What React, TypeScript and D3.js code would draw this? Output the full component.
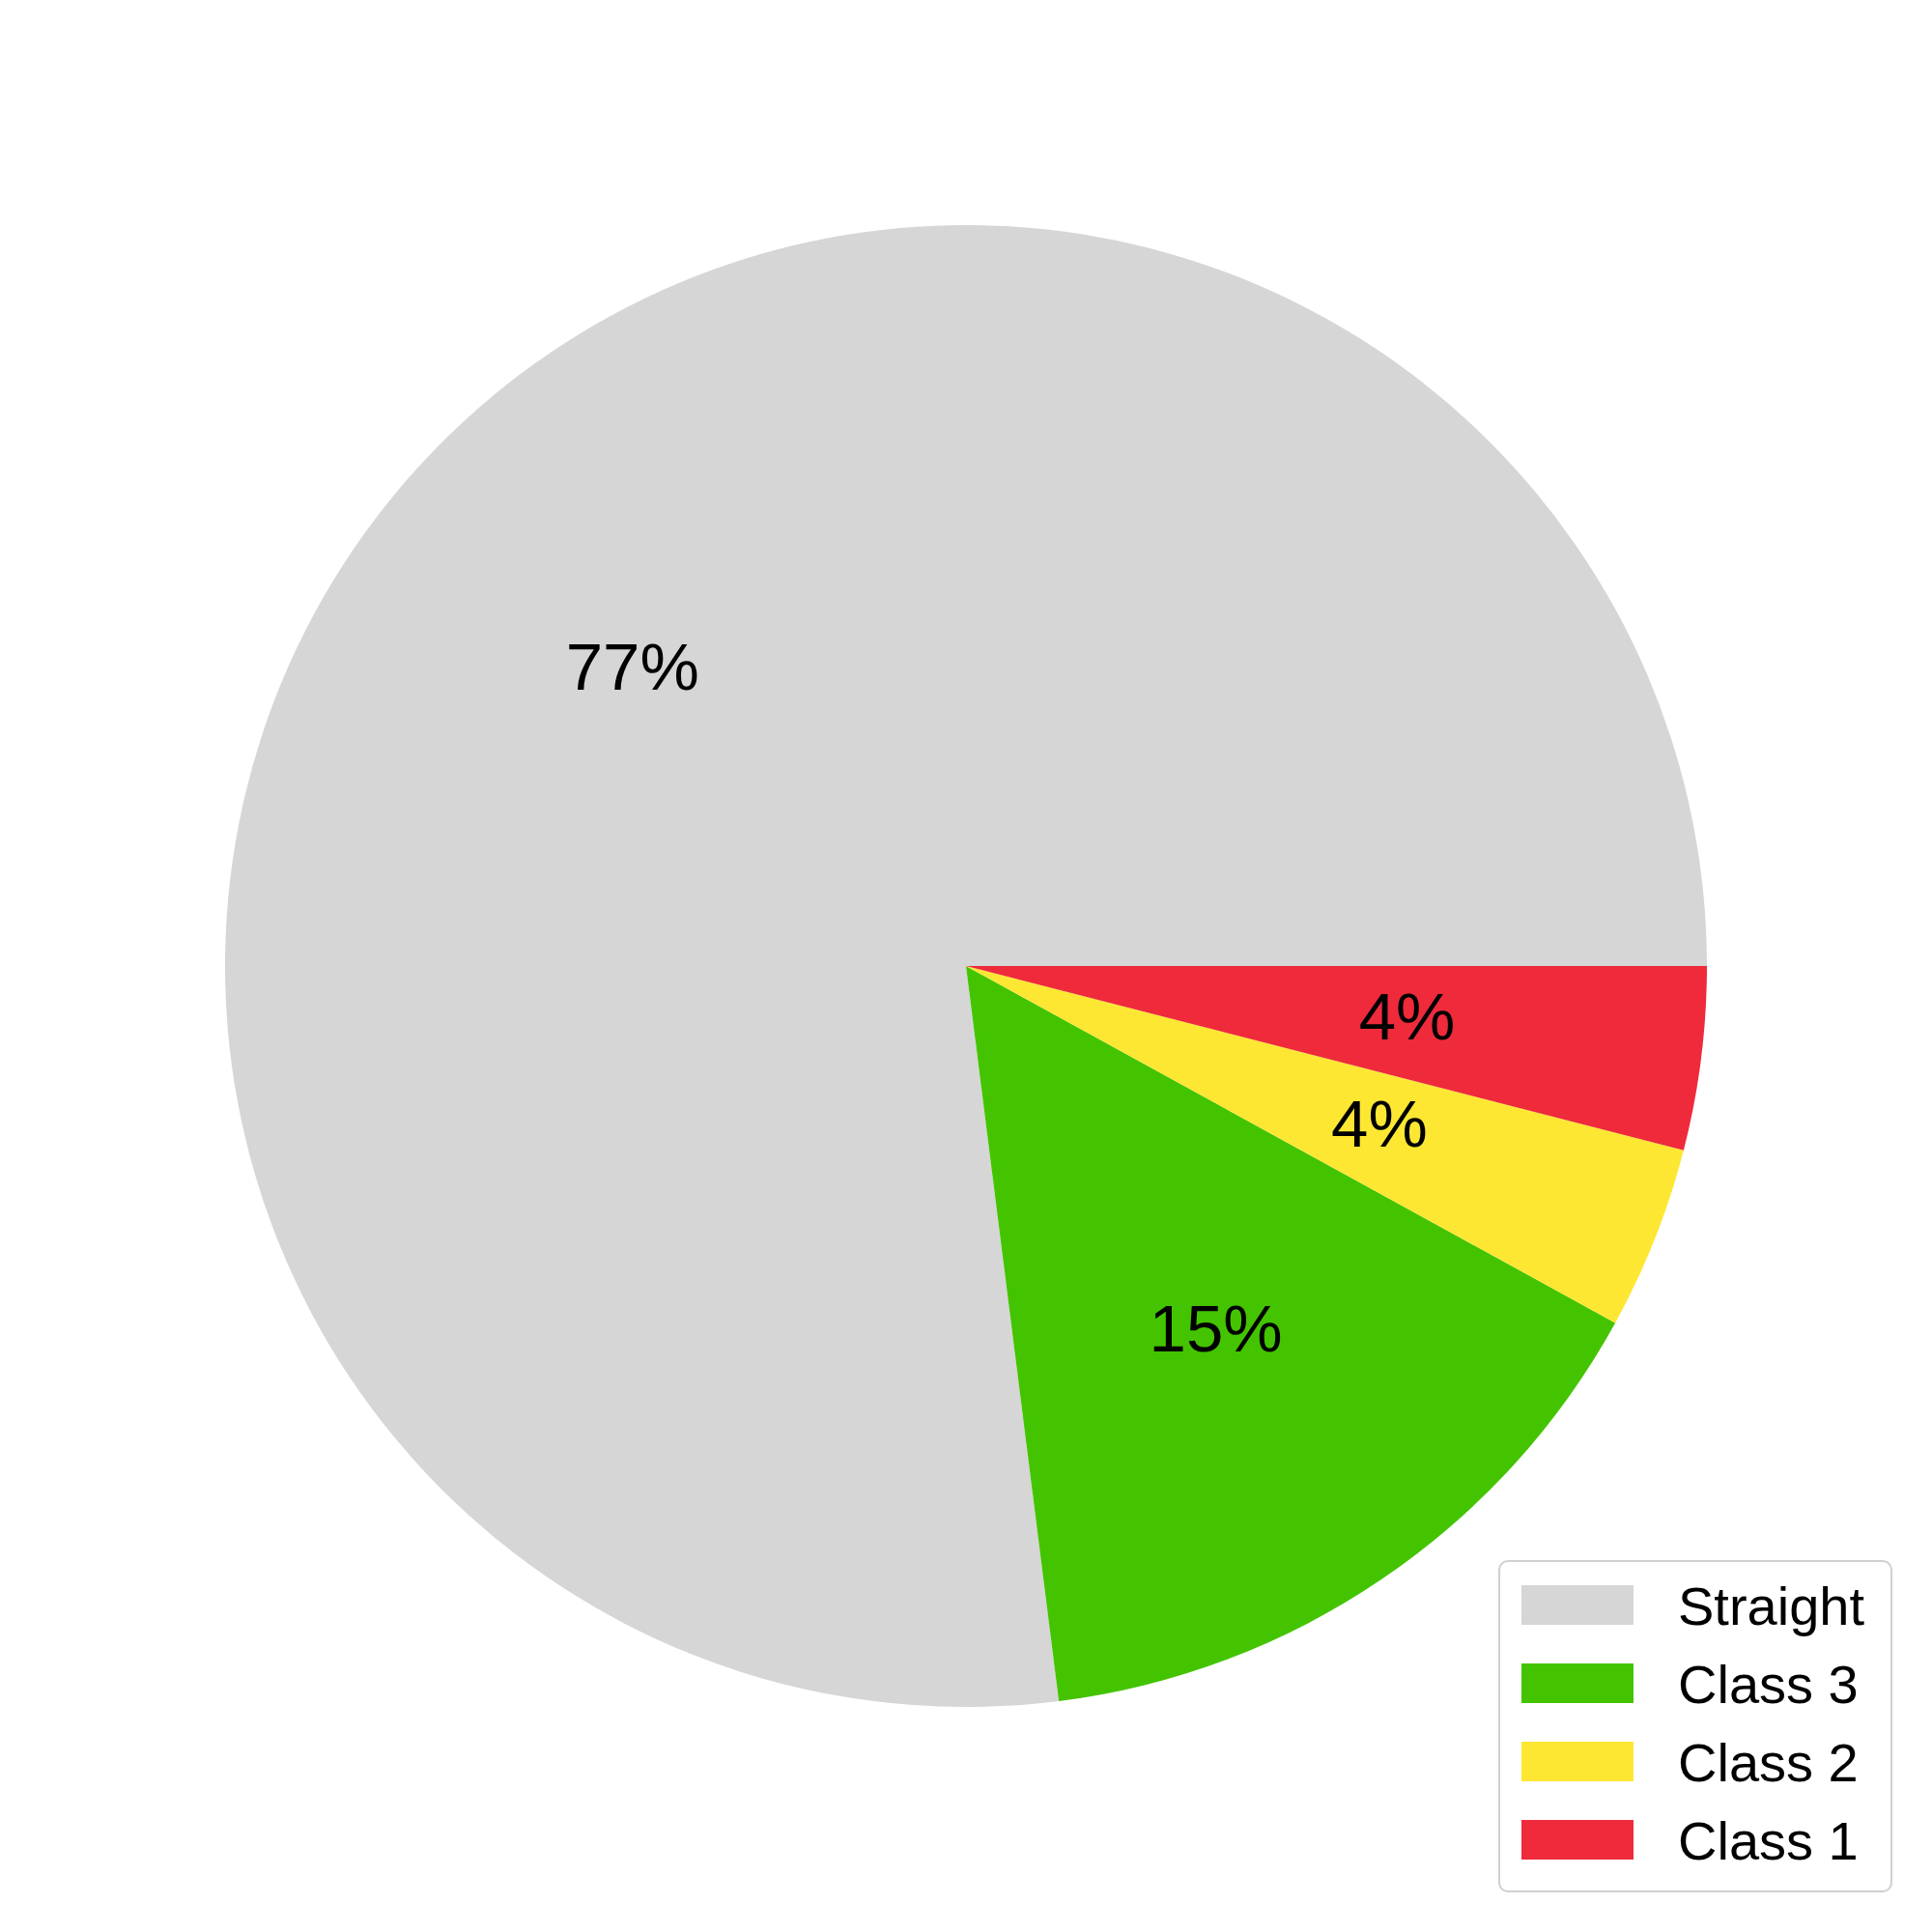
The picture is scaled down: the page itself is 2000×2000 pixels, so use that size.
import { arc, pie, PieArcDatum, select } from 'd3'
import { useEffect, useRef } from 'react'

// slice order as matplotlib draws it: counterclockwise from 3 o'clock
const categories = ['Straight', 'Class 3', 'Class 2', 'Class 1']
const shares = [77, 15, 4, 4]
const colors = ['#d6d6d6', '#44c400', '#fde733', '#ee2a3b']

type Slice = { name: string; value: number; color: string }

const slices: Slice[] = categories.map((name, i) => ({ name, value: shares[i], color: colors[i] }))

const WIDTH = 2000
const HEIGHT = 2000

function PieChart() {
  const ref = useRef<SVGSVGElement>(null)

  useEffect(() => {
    if (!ref.current) return
    const svg = select(ref.current)
    svg.selectAll('*').remove()

    const cx = 1000
    const cy = 1000
    const radius = 767
    const font = 'Liberation Sans, Arial, Helvetica, sans-serif'

    const layout = pie<Slice>()
      .sort(null)
      .value((d) => d.value)
      .startAngle(Math.PI / 2)
      .endAngle(Math.PI / 2 - 2 * Math.PI)
    const arcs = layout(slices)

    const slicePath = arc<PieArcDatum<Slice>>().innerRadius(0).outerRadius(radius)
    const labelArc = arc<PieArcDatum<Slice>>()
      .innerRadius(radius * 0.6)
      .outerRadius(radius * 0.6)

    const g = svg.append('g').attr('transform', `translate(${cx}, ${cy})`)

    g.selectAll('path.slice')
      .data(arcs)
      .join('path')
      .attr('class', 'slice')
      .attr('d', slicePath)
      .attr('fill', (d) => d.data.color)

    const total = slices.reduce((s, d) => s + d.value, 0)
    g.selectAll('text.pct')
      .data(arcs)
      .join('text')
      .attr('class', 'pct')
      .attr('x', (d) => labelArc.centroid(d)[0])
      .attr('y', (d) => labelArc.centroid(d)[1] + 18)
      .attr('text-anchor', 'middle')
      .attr('font-family', font)
      .attr('font-size', 69)
      .attr('fill', '#000')
      .text((d) => `${Math.round((d.data.value / total) * 100)}%`)

    // legend, lower right
    const legend = svg.append('g').attr('transform', 'translate(1552, 1616)')
    legend
      .append('rect')
      .attr('width', 406)
      .attr('height', 342)
      .attr('rx', 9)
      .attr('ry', 9)
      .attr('fill', '#fff')
      .attr('stroke', '#d0d0d0')
      .attr('stroke-width', 2)

    const rows = legend
      .selectAll('g.row')
      .data(slices)
      .join('g')
      .attr('class', 'row')
      .attr('transform', (_, i) => `translate(0, ${25 + i * 81})`)
    rows
      .append('rect')
      .attr('x', 23)
      .attr('width', 116)
      .attr('height', 41)
      .attr('fill', (d) => d.color)
    rows
      .append('text')
      .attr('x', 185)
      .attr('y', 41)
      .attr('font-family', font)
      .attr('font-size', 56)
      .attr('fill', '#000')
      .text((d) => d.name)
  }, [])

  return (
    <svg
      ref={ref}
      width={WIDTH}
      height={HEIGHT}
      style={{ position: 'absolute', left: 0, top: 0, background: '#fff' }}
    />
  )
}

export default function App() {
  return <PieChart />
}
